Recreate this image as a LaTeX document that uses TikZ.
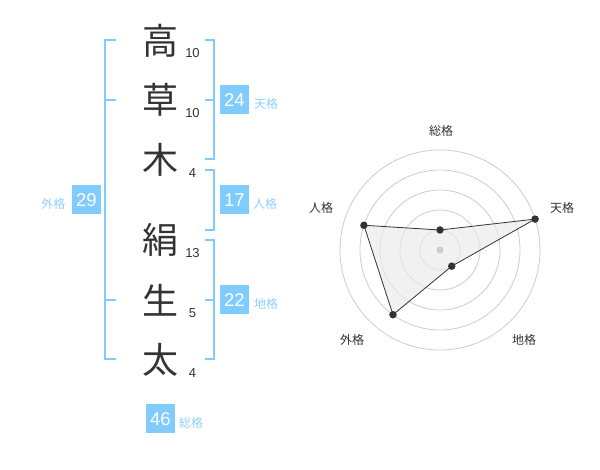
\documentclass[tikz,border=0pt]{standalone}
\usepackage{fontspec}
\usetikzlibrary{calc}
\setmainfont{Liberation Sans}
\newfontfamily\jp{Noto Sans CJK JP}
\definecolor{skyb}{HTML}{80CCFF}
\definecolor{skyt}{HTML}{8FD0F8}
\definecolor{ink}{HTML}{333333}
\definecolor{ring}{HTML}{CCCCCC}
\begin{document}
\begin{tikzpicture}[x=1pt,y=1pt,
  kanji/.style={inner sep=0pt,text=ink,font=\jp\fontsize{36}{40}\selectfont},
  strokes/.style={inner sep=0pt,text=ink,font=\fontsize{13}{14}\selectfont},
  badge/.style={fill=skyb,text=white,inner sep=0pt,minimum width=28.5,minimum height=29,font=\fontsize{18.5}{19}\selectfont},
  blabel/.style={inner sep=0pt,text=skyt,font=\jp\fontsize{12}{13}\selectfont},
  rlabel/.style={inner sep=0pt,text=ink,font=\jp\fontsize{12}{13}\selectfont},
  brk/.style={draw=skyb,line width=2pt},
  ringc/.style={draw=ring,line width=0.8pt},
  dot/.style={circle,fill=ink,inner sep=0pt,minimum size=7.5pt}
]
\useasboundingbox (0,0) rectangle (600,470);
% kanji
\node[kanji] (k1) at (160,429) {高};
\node[kanji] (k2) at (160,370) {草};
\node[kanji] (k3) at (160,310) {木};
\node[kanji] (k4) at (160,230) {絹};
\node[kanji] (k5) at (160,170) {生};
\node[kanji] (k6) at (160,110) {太};
% stroke counts
\node[strokes] (s1) at (192.5,417) {10};
\node[strokes] (s2) at (192.5,357) {10};
\node[strokes] (s3) at (192.5,297) {4};
\node[strokes] (s4) at (192.5,217) {13};
\node[strokes] (s5) at (192.5,157) {5};
\node[strokes] (s6) at (192.5,97) {4};
% brackets
\draw[brk] (116,430) -- (105,430) -- (105,111) -- (116,111);
\draw[brk] (105,370) -- (116,370);
\draw[brk] (105,170) -- (116,170);
\draw[brk] (205,430) -- (214,430) -- (214,311) -- (205,311);
\draw[brk] (205,370) -- (214,370);
\draw[brk] (205,300) -- (214,300) -- (214,240) -- (205,240);
\draw[brk] (205,230) -- (214,230) -- (214,111) -- (205,111);
\draw[brk] (205,170) -- (214,170);
% badges
\node[badge] (b24) at (234.5,370) {24};
\node[blabel,anchor=west] (l24) at (254,366) {天格};
\node[badge] (b17) at (234.5,270) {17};
\node[blabel,anchor=west] (l17) at (253,266) {人格};
\node[badge] (b22) at (234.5,170) {22};
\node[blabel,anchor=west] (l22) at (254,166) {地格};
\node[badge] (b29) at (86.5,270) {29};
\node[blabel,anchor=east] (l29) at (65.5,266) {外格};
\node[badge] (b46) at (160.5,51) {46};
\node[blabel,anchor=west] (l46) at (179,47) {総格};
% radar
\coordinate (C) at (440,220);
\foreach \r in {20,40,60,80,100} \draw[ringc] (C) circle (\r);
\coordinate (pT) at ($(C)+(90:20)$);
\coordinate (pA) at ($(C)+(18:100)$);
\coordinate (pE) at ($(C)+(-54:20)$);
\coordinate (pG) at ($(C)+(-126:80)$);
\coordinate (pJ) at ($(C)+(162:80)$);
\draw[fill=black!8,fill opacity=0.7,draw=ink,line width=0.8pt] (pT) -- (pA) -- (pE) -- (pG) -- (pJ) -- cycle;
\node[circle,fill=ring,inner sep=0pt,minimum size=7pt] (c0) at (C) {};
\node[dot] (dT) at (pT) {};
\node[dot] (dA) at (pA) {};
\node[dot] (dE) at (pE) {};
\node[dot] (dG) at (pG) {};
\node[dot] (dJ) at (pJ) {};
\node[rlabel] (rT) at (441,339) {総格};
\node[rlabel] (rA) at (562,262) {天格};
\node[rlabel] (rE) at (524,130) {地格};
\node[rlabel] (rG) at (352,130) {外格};
\node[rlabel] (rJ) at (321,262) {人格};
\end{tikzpicture}
\end{document}
